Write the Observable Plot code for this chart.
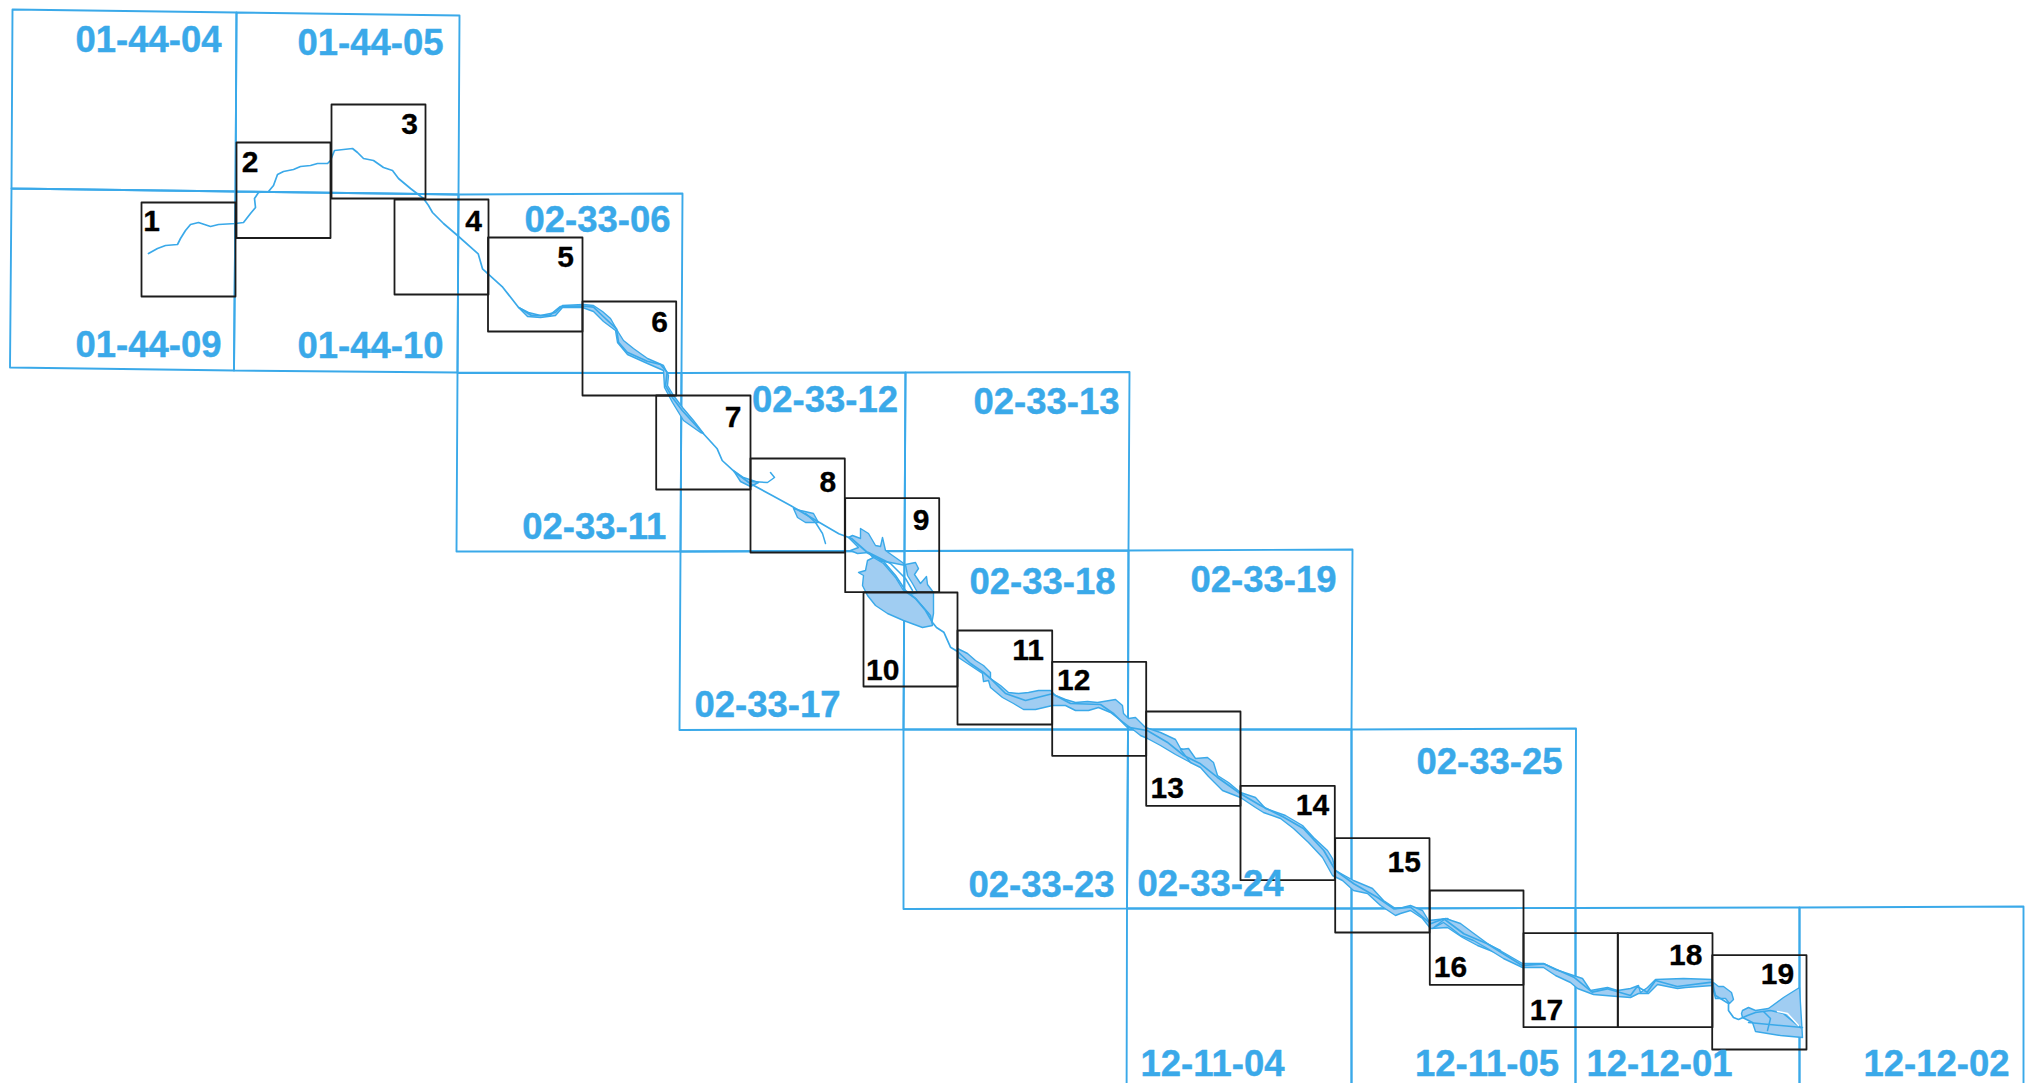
<!DOCTYPE html>
<html>
<head>
<meta charset="utf-8">
<style>html,body{margin:0;padding:0;background:#fff}svg{display:block}</style>
<script src="https://cdn.jsdelivr.net/npm/d3@7"></script>
<script src="https://cdn.jsdelivr.net/npm/@observablehq/plot@0.6"></script>
</head>
<body>
<div id="chart"></div>
<script>
// Map sheets: name, label position, four corners (map pixels)
const sheetNames = ["01-44-04","01-44-05","01-44-09","01-44-10","02-33-06","02-33-11","02-33-12","02-33-13","02-33-17","02-33-18","02-33-19","02-33-23","02-33-24","02-33-25","12-11-04","12-11-05","12-12-01","12-12-02"];
const sheetCorners = [
 [[12,9],[236,12],[235,191],[11,188]],
 [[236,12],[459,15],[458,194],[235,191]],
 [[11,188],[235,191],[233.5,370],[9.5,367]],
 [[235,191],[458,194],[457,372],[233.5,370]],
 [[458,194],[682,193],[681,372.5],[457,372]],
 [[457,372.5],[681,372.5],[680,551],[456,551]],
 [[681,372.5],[905,372],[904,550.5],[680,551]],
 [[905,372],[1129,371.5],[1128,550],[904,550.5]],
 [[680,551],[904,550.5],[903,729],[679,729.5]],
 [[904,550.5],[1128,550],[1127.5,729],[903,729]],
 [[1128,550],[1352,549],[1351,729],[1127.5,729]],
 [[903,729],[1127.5,729],[1126.5,908],[903,908.5]],
 [[1127.5,729],[1351,729],[1351,908],[1126.5,908]],
 [[1351,729],[1575.5,728],[1575,907.5],[1351,908]],
 [[1126.5,908],[1351,908],[1351,1140],[1126,1140]],
 [[1351,908],[1575,907.5],[1575,1140],[1351,1140]],
 [[1575,907.5],[1799,907],[1799,1140],[1575,1140]],
 [[1799,907],[2023,906],[2023,1140],[1799,1140]]
];
const sheetLabelX = [148,370,148,370,597,593.7,824.5,1046,767,1042,1263,1041,1210,1489,1212,1486.5,1659,1936];
const sheetLabelY = [40,42.5,345,346,220,527,400,402,705,581.7,580,885,884,762,1064,1064,1064,1064];

// Numbered index boxes: [x0, y0, x1, y1]
const boxNumbers = ["1","2","3","4","5","6","7","8","9","10","11","12","13","14","15","16","17","18","19"];
const boxes = [
 [141,202,235,296],[236,142,330,237.5],[331,104,425,198],[394,199,488,294],[487.5,237,582,331],
 [582,301,675.7,395],[655.7,395,750,489],[750,458,844.3,552],[844.7,497.7,938.7,591.7],[863,592,957,686],
 [957,630,1051.7,724],[1051.7,661.3,1145.7,755.3],[1145.7,711,1240,805.3],[1240,785.3,1334.3,879.7],[1334.7,837.7,1429,932],
 [1429.3,890,1523,984.3],[1523,932.7,1617.3,1026.7],[1617.3,932.7,1712,1026.7],[1711.7,954.7,1806,1049]
];
const boxLabelX = [151,249.6,409,473,565,659,732.7,827.3,920.7,882.3,1027.7,1073.3,1166.7,1312,1403.7,1450,1546,1685.3,1777];
const boxLabelY = [220.7,161.7,124.3,221,257.3,321.7,417.3,482.3,520,670.3,650,680,787.7,805,861.7,966.7,1009.7,954.7,974.3];

// River centre line
const riverLine = [[148,253],[157,248],[165,245],[177,244],[180,238],[185,230],[190,224],[198,222],[210,226],[218,224],[235,223],[243,222],[250,213],[255,207],[254,198],[258,192],[268,191],[273,185],[277,174],[283,171],[293,169],[300,166],[310,165],[317,163],[327,163],[330,160],[334,150],[343,149],[352,148],[357,152],[363,158],[373,160],[383,167],[392,170],[398,178],[410,188],[423,198],[428,205],[432,212],[443,223],[457,235],[477.7,253.3],[482,268.3],[502.2,286.7],[517.9,306.7],[531,315],[549,315],[560,306],[581.7,305.5],[593,306.7],[601.7,315],[616,328.3],[618,341.7],[626.7,351.7],[646.7,360.7],[660,364],[666.7,371.7],[665,385],[671.7,396.7],[681.7,410],[700,430],[716.7,448.3],[721.7,460],[733.3,470.7],[750,483.3],[771.7,495],[790,505],[810,516.7],[838.3,533.3],[851,538],[868,553],[883,561],[895,575],[905,590],[915,598],[925,610],[932,622],[936,627],[943.3,631.7],[950,646.7],[957,651],[970,663],[983,672],[990,678],[1005,693],[1025,700],[1051.7,693.3],[1070,703],[1100,704],[1113.3,713.3],[1126.7,726.7],[1146.7,730],[1166.7,741.7],[1183.3,755],[1200,763.3],[1216.7,776.7],[1240,793.3],[1260,805],[1283.3,816.7],[1303.3,828.3],[1323.3,850],[1335,870],[1353.3,883.3],[1376.7,896.7],[1393.3,908.3],[1410,906.7],[1428.3,921.7],[1430,923.3],[1443.3,918.3],[1463.3,933.3],[1486.7,943.3],[1521.7,965],[1543.3,963.3],[1573.3,976.7],[1591.7,991.7],[1606.7,988.3],[1630,995],[1636.7,986],[1646.7,991.7],[1655,980],[1676.7,986],[1711.7,981.7],[1715,995],[1728,1003],[1728,1010],[1733,1017],[1738,1019],[1747,1015],[1755,1012],[1770,1010],[1783,1013],[1800,1027]];

// Side channels and tributaries
const tributaries = [
 [[750,481],[767,482],[774,477],[770,472]],
 [[805,513],[815,522],[822,533],[825,543]],
 [[1748,1022],[1802,1027]],
 [[1763,1011],[1770,1018],[1767,1030]],
 [[868,552],[890,563],[905,578],[912,590]]
];

// Water surfaces
const waterBodies = [
 [[518,307],[528,312],[540,315],[555,312],[562,305],[583,304],[593,305],[602,311],[610,318],[618,332],[623,340],[633,348],[647,358],[663,365],[668,375],[667,385],[673,395],[682,407],[693,420],[703,433],[700,432],[683,420],[672,402],[664,387],[663,370],[647,363],[627,354],[617,342],[615,330],[603,321],[593,311],[582,307],[562,307],[555,315],[540,317],[527,316]],
 [[733,470],[743,477],[758,482],[750,486],[740,481]],
 [[793,508],[800,510],[813,513],[818,522],[805,522],[797,517]],
 [[852,535],[860,538],[860,528],[868,533],[875,545],[880,546],[882,537],[885,550],[902,562],[905,565],[890,562],[875,560],[868,552],[857,553],[850,550],[858,547],[848,537]],
 [[905,564],[915,562],[918,568],[914,574],[920,583],[926,576],[927,584],[933,592],[933,613],[931,624],[928,613],[915,598],[908,594],[917,592],[912,583],[907,575]],
 [[867,560],[873,557],[883,563],[895,577],[903,590],[915,598],[930,615],[932,625],[922,627],[903,620],[887,613],[875,605],[867,595],[862,585],[863,575],[858,572],[865,570]],
 [[957,648],[967,653],[975,660],[983,665],[990,672],[990,678],[1000,685],[1008,692],[1018,693],[1028,692],[1038,690],[1050,690],[1055,695],[1065,699],[1075,702],[1087,701],[1097,702],[1115,699],[1122,705],[1123,713],[1128,718],[1135,717],[1145,727],[1160,732],[1175,739],[1180,748],[1190,752],[1190,762],[1175,754],[1160,745],[1147,738],[1140,735],[1135,731],[1127,725],[1110,712],[1098,707],[1088,710],[1075,710],[1065,705],[1052,705],[1035,709],[1023,709],[1013,703],[1002,697],[990,687],[988,680],[983,681],[982,673],[967,663],[958,657]],
 [[1180,749],[1188,748],[1195,758],[1207,757],[1213,762],[1217,775],[1228,782],[1240,792],[1255,797],[1265,808],[1285,815],[1302,825],[1313,837],[1327,850],[1332,858],[1335,870],[1353,880],[1372,888],[1383,900],[1395,908],[1402,907],[1410,905],[1422,910],[1428,920],[1447,918],[1458,925],[1473,937],[1500,950],[1500,954],[1477,945],[1462,937],[1447,927],[1430,928],[1422,918],[1410,910],[1400,913],[1395,915],[1380,905],[1367,893],[1353,890],[1342,880],[1332,875],[1322,857],[1308,842],[1293,828],[1280,818],[1263,812],[1255,807],[1240,797],[1222,790],[1208,776],[1200,767],[1190,762]],
 [[1445,918],[1460,923],[1472,932],[1487,943],[1503,952],[1522,963],[1543,963],[1555,969],[1573,975],[1582,978],[1590,990],[1607,987],[1617,990],[1630,988],[1638,985],[1640,992],[1647,987],[1655,979],[1683,978],[1712,979],[1712,985],[1685,987],[1677,988],[1657,984],[1648,993],[1638,993],[1630,997],[1617,996],[1593,994],[1577,988],[1570,982],[1555,975],[1543,967],[1522,967],[1503,958],[1487,948],[1473,940],[1460,935],[1450,927],[1443,922],[1432,928]],
 [[1713,982],[1718,986],[1723,986],[1731,992],[1733,999],[1729,1003],[1725,998],[1715,998],[1713,990]],
 [[1742,1010],[1748,1007],[1755,1010],[1768,1008],[1783,997],[1799,987],[1802,1037],[1780,1035],[1755,1031],[1752,1022],[1742,1017],[1741,1013]]
];
const sandbar = [[1777,1011],[1787,1013],[1798,1025]];

const blue = "#3aa9e9", waterFill = "#a0cdf2", ink = "#1c1c1c", textFont = "Liberation Sans, Arial, sans-serif";

const rows = (arrs, names) => arrs.flatMap((pts, i) => pts.map(([x, y]) => ({x, y, id: names ? names[i] : i})));
const sheetRows = rows(sheetCorners, sheetNames);
const boxRows = boxes.flatMap(([a, b, c, d], i) => [[a,b],[c,b],[c,d],[a,d]].map(([x, y]) => ({x, y, id: boxNumbers[i]})));
const sheetLabels = sheetNames.map((t, i) => ({t, x: sheetLabelX[i], y: sheetLabelY[i]}));
const boxLabels = boxNumbers.map((t, i) => ({t, x: boxLabelX[i], y: boxLabelY[i]}));

const closed = (data, opts) => Plot.line(data, {x: "x", y: "y", z: "id", curve: "linear-closed", clip: true, ...opts});

const chart = Plot.plot({
  width: 2035, height: 1083,
  marginTop: 0, marginRight: 0, marginBottom: 0, marginLeft: 0,
  x: {domain: [0, 2035], axis: null},
  y: {domain: [1083, 0], axis: null},
  style: {background: "#fff", maxWidth: "none"},
  marks: [
    closed(sheetRows, {stroke: blue, strokeWidth: 1.9}),
    closed(rows(waterBodies), {fill: waterFill, stroke: blue, strokeWidth: 1.4}),
    Plot.line(rows(tributaries), {x: "x", y: "y", z: "id", stroke: blue, strokeWidth: 1.5}),
    Plot.line(rows([riverLine]), {x: "x", y: "y", z: "id", stroke: blue, strokeWidth: 1.7}),
    Plot.line(rows([sandbar]), {x: "x", y: "y", z: "id", stroke: "#fff", strokeWidth: 1.5}),
    closed(boxRows, {stroke: ink, strokeWidth: 1.8}),
    Plot.text(sheetLabels, {x: "x", y: "y", text: "t", fill: blue, stroke: blue, strokeWidth: 0.4, fontSize: 36.5, fontWeight: "bold", fontFamily: textFont, textAnchor: "middle", lineAnchor: "middle"}),
    Plot.text(boxLabels, {x: "x", y: "y", text: "t", fill: "#000", stroke: "#000", strokeWidth: 0.3, fontSize: 30, fontWeight: "bold", fontFamily: textFont, textAnchor: "middle", lineAnchor: "middle"})
  ]
});
document.getElementById("chart").append(chart);
</script>
</body>
</html>
